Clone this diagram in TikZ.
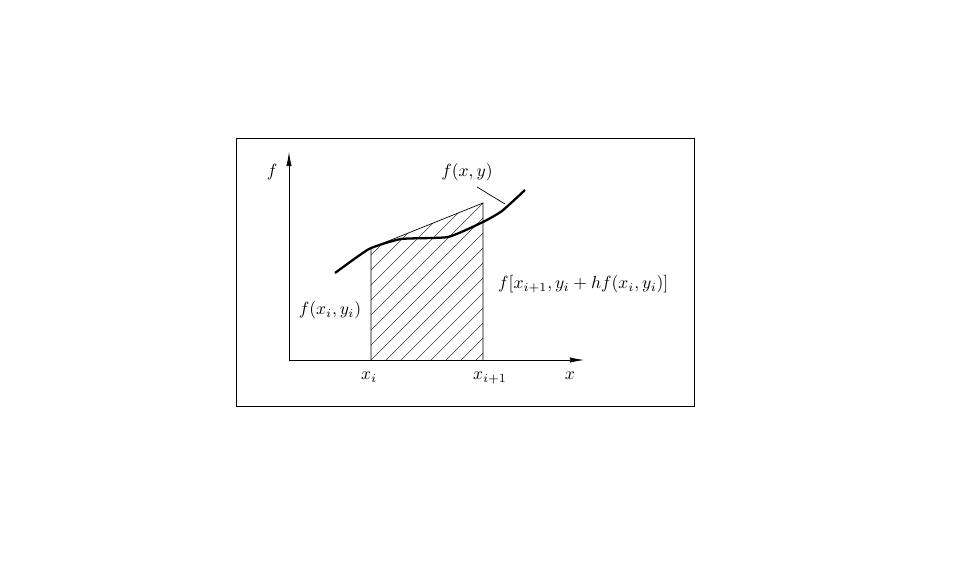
\documentclass[tikz,border=0pt]{standalone}
\usepackage{amsmath}
\usetikzlibrary{arrows.meta}

\begin{document}
\begin{tikzpicture}[x=0.02cm,y=-0.02cm,>={Latex[length=8pt,width=3pt]},
	axis/.style={->,thin}, curve/.style={line width=1.3pt}, hatch/.style={very thin}]
	\useasboundingbox (0,0) rectangle (975,561);
	\draw[thin] (236,138) rectangle (694,406);
	\coordinate (O)    at (289,360);
	\coordinate (ytip) at (289,152);
	\coordinate (xtip) at (584,360);
	\coordinate (xi)   at (371,360);
	\coordinate (xj)   at (483,360);
	\coordinate (yi)   at (371,248);
	\coordinate (yj)   at (483,203);
	\coordinate (touch) at (505,204);
	\begin{scope}
		\clip (xi) -- (yi) -- (yj) -- (xj) -- cycle;
		\foreach \k in {-8,...,8}
			\draw[hatch] (371+\k*15,360) -- ++(200,-200);
	\end{scope}
	\draw[thin] (xi) -- (yi) -- (yj) -- (xj);
	\draw[axis] (O) -- (ytip);
	\draw[axis] (O) -- (xtip);
	\draw[curve] plot[smooth,tension=0.3] coordinates {(335,273) (369,249) (401,239) (448,237) (483,222) (502,211) (525,190)};
	\node (fl)    at (272,172) {$f$};
	\node (xl)    at (570,376) {$x$};
	\node (xil)   at (369,377) {$x_i$};
	\node (xjl)   at (490,378) {$x_{i+1}$};
	\node (fxy)   at (467,172) {$f(x,y)$};
	\node (fi)    at (330,310) {$f(x_i,y_i)$};
	\node[anchor=west] (fnext) at (492,284) {$f[x_{i+1},y_i+hf(x_i,y_i)]$};
	\draw[thin] ([xshift=0.2cm]fxy.south) -- (touch);
\end{tikzpicture}
\end{document}
